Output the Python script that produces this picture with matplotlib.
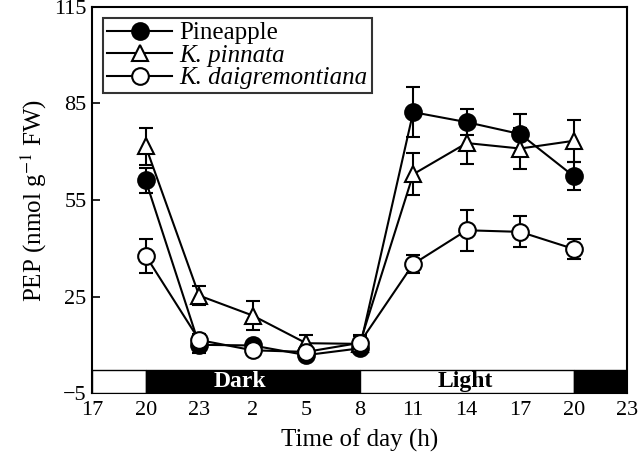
import matplotlib
matplotlib.use("Agg")
from matplotlib import pyplot as plt
from matplotlib.lines import Line2D
from matplotlib.patches import Rectangle

# hours after 17:00 on the first day
x_hours = [3, 6, 9, 12, 15, 18, 21, 24, 27]

pineapple = [61.1, 10.0, 9.8, 6.8, 8.9, 82.3, 79.2, 75.5, 62.4]
pineapple_err = [4.0, 2.5, 1.5, 1.5, 1.5, 7.7, 4.0, 6.2, 4.3]

pinnata = [71.7, 25.3, 19.1, 10.5, 10.3, 63.0, 72.7, 71.0, 73.4]
pinnata_err = [5.7, 3.0, 4.5, 2.5, 2.5, 6.5, 6.5, 6.5, 6.5]

daigremontiana = [37.7, 11.5, 8.3, 7.8, 10.6, 35.1, 45.6, 45.1, 39.8]
daigremontiana_err = [5.3, 2.0, 1.5, 1.5, 2.5, 2.8, 6.3, 4.8, 3.0]

tick_pos = [0, 3, 6, 9, 12, 15, 18, 21, 24, 27, 30]
tick_labels = ["17", "20", "23", "2", "5", "8", "11", "14", "17", "20", "23"]

# (start, end, dark?)
periods = [(0, 3, False), (3, 15, True), (15, 27, False), (27, 30, True)]

plt.rcParams["font.family"] = ["Liberation Serif", "DejaVu Serif"]
plt.rcParams["mathtext.fontset"] = "stix"

fig = plt.figure(figsize=(6.4, 4.63), dpi=100)
ax = fig.add_axes([0.144, 0.151, 0.836, 0.834])

series = [
    (pineapple, pineapple_err, "o", "black", "Pineapple"),
    (pinnata, pinnata_err, "^", "white", "K. pinnata"),
    (daigremontiana, daigremontiana_err, "o", "white", "K. daigremontiana"),
]
handles = []
for vals, err, marker, face, label in series:
    style = dict(color="black", lw=1.5, marker=marker,
                 markersize=12 if marker == "o" else 11,
                 markerfacecolor=face, markeredgecolor="black", markeredgewidth=1.5)
    ax.errorbar(x_hours, vals, yerr=err, ecolor="black", elinewidth=1.5,
                capsize=5, capthick=1.5, **style)
    handles.append(Line2D([], [], label=label, **style))

# light / dark bar along the bottom
trans = ax.get_xaxis_transform()
bar_h = 0.059
for start, end, dark in periods:
    ax.add_patch(Rectangle((start, 0), end - start, bar_h, transform=trans,
                           facecolor="black" if dark else "white",
                           edgecolor="black", lw=1, zorder=3))
ax.text(8.3, bar_h / 2, "Dark", transform=trans, color="white", fontsize=17,
        fontweight="bold", ha="center", va="center", zorder=4)
ax.text(20.9, bar_h / 2, "Light", transform=trans, color="black", fontsize=17,
        fontweight="bold", ha="center", va="center", zorder=4)

ax.set_xlim(0, 30)
ax.set_ylim(-5, 115)
ax.set_yticks([-5, 25, 55, 85, 115])
ax.set_yticklabels(["\u22125", "25", "55", "85", "115"])
ax.set_xticks(tick_pos)
ax.set_xticklabels(tick_labels)
ax.tick_params(axis="y", direction="in", length=6, width=1.2, labelsize=16, pad=4)
ax.tick_params(axis="x", length=0, labelsize=16, pad=6)
for sp in ax.spines.values():
    sp.set_linewidth(1.5)

ax.set_xlabel("Time of day (h)", fontsize=18, labelpad=6)
ax.set_ylabel("PEP (nmol g$^{-1}$ FW)", fontsize=18, labelpad=4)

leg = ax.legend(handles=handles, loc="upper left", fontsize=18, frameon=True,
                fancybox=False, edgecolor="black", handlelength=2.6, borderpad=0.15,
                labelspacing=0.0, handletextpad=0.3, borderaxespad=0.45)
leg.get_frame().set_linewidth(1.5)
for t in leg.get_texts()[1:]:
    t.set_fontstyle("italic")

fig.savefig("out.png", dpi=100)
